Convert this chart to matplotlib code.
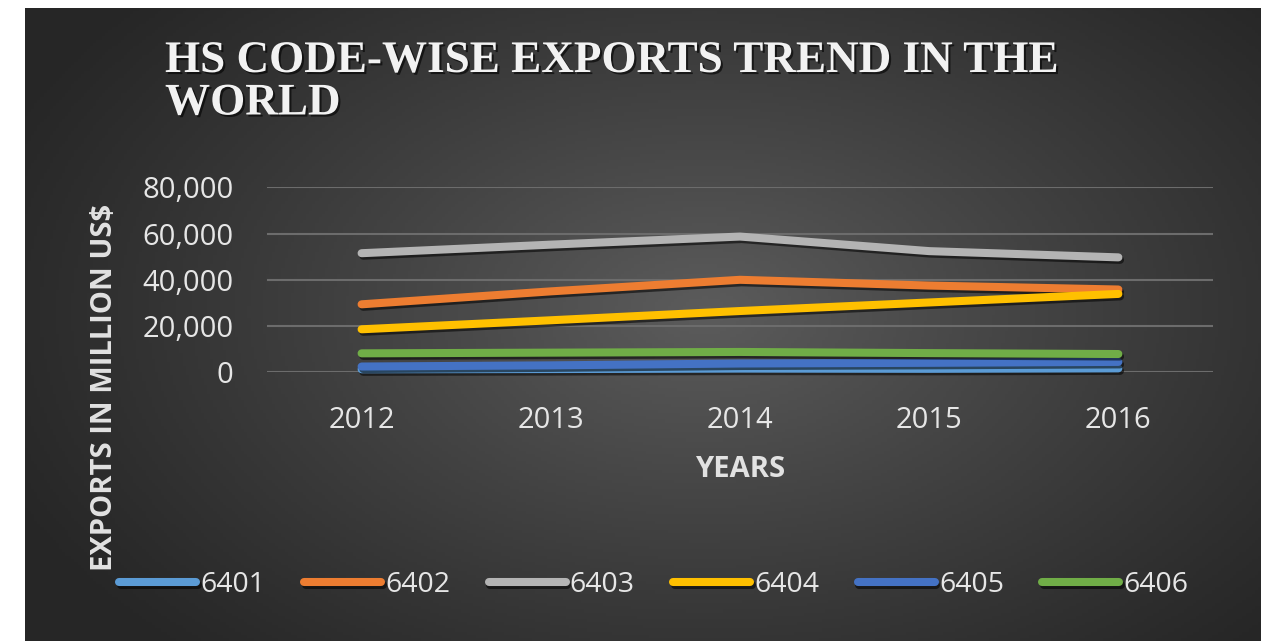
import numpy as np
import matplotlib
matplotlib.use("Agg")
import matplotlib.pyplot as plt
import matplotlib.patheffects as pe
from matplotlib.ticker import FuncFormatter

# exports by HS code, million US$
years = ["2012", "2013", "2014", "2015", "2016"]
codes = ["6401", "6402", "6403", "6404", "6405", "6406"]
exp_6401 = [1300, 1400, 1600, 1500, 1700]
exp_6402 = [29400, 35000, 40000, 37500, 35800]
exp_6403 = [51500, 55200, 58700, 52400, 49700]
exp_6404 = [18600, 22500, 26500, 30200, 33900]
exp_6405 = [2500, 3000, 3800, 4100, 4500]
exp_6406 = [8200, 8500, 8800, 8300, 7900]
colors = ["#5B9BD5", "#ED7D31", "#B4B4B4", "#FFC000", "#4472C4", "#70AD47"]

W, H, DPI = 1261, 641, 100
fig = plt.figure(figsize=(W / DPI, H / DPI), dpi=DPI, facecolor="white")

# dark panel with a soft radial glow
bg = fig.add_axes([25 / W, 0, 1 - 25 / W, 1 - 8 / H])
bg.set_axis_off()
gx, gy = np.meshgrid(np.linspace(0, 1, 400), np.linspace(0, 1, 200))
d = np.sqrt(((gx - 0.55) / 0.62) ** 2 + ((gy - 0.52) / 0.75) ** 2)
g = 0.15 + 0.21 * np.clip(1 - d, 0, 1) ** 1.1
bg.imshow(np.dstack([g, g, g]), aspect="auto", extent=(0, 1, 0, 1), origin="lower")

ax = fig.add_axes([267 / W, 1 - 372.3 / H, 946 / W, 185 / H])
ax.set_facecolor("none")

series = [exp_6401, exp_6402, exp_6403, exp_6404, exp_6405, exp_6406]
x = np.arange(len(years))
shadow = [pe.SimpleLineShadow(offset=(1.2, -1.8), shadow_color="black", alpha=0.55),
          pe.Normal()]
for vals, code, col in zip(series, codes, colors):
    ax.plot(x, vals, color=col, lw=5.8, solid_capstyle="round",
            solid_joinstyle="round", label=code, clip_on=False,
            path_effects=shadow, zorder=3)

ax.set_xlim(-0.5, len(years) - 0.5)
ax.set_ylim(0, 80000)
ax.set_yticks([0, 20000, 40000, 60000, 80000])
ax.yaxis.set_major_formatter(FuncFormatter(lambda v, p: f"{v:,.0f}"))
ax.set_xticks(x)
ax.set_xticklabels(years)
ax.grid(axis="y", color="#6c6c6c", lw=1.5)
ax.set_axisbelow(True)
for s in ax.spines.values():
    s.set_visible(False)
ax.tick_params(length=0, pad=24, labelcolor="#e6e6e6", labelsize=21)
for lab in ax.get_xticklabels() + ax.get_yticklabels():
    lab.set_family("Open Sans")

ax.set_xlabel("YEARS", fontsize=21, fontweight="bold", color="#e2e2e2",
              family="Open Sans", labelpad=15)
fig.text(105 / W, 1 - 387 / H, "EXPORTS IN MILLION US$", rotation=90,
         ha="center", va="center", fontsize=21, fontweight="bold",
         color="#e2e2e2", family="Open Sans")

fig.text(165 / W, 1 - 41 / H, "HS CODE-WISE EXPORTS TREND IN THE\nWORLD",
         ha="left", va="top", fontsize=32.5, fontweight="bold",
         family="Liberation Serif", color="#f2f2f2", linespacing=1.08,
         path_effects=[pe.withSimplePatchShadow(offset=(1.5, -1.5),
                                                shadow_rgbFace="black",
                                                alpha=0.6)])

leg = fig.legend(loc="center", bbox_to_anchor=(654 / W, 1 - 585 / H), ncol=6,
                 frameon=False, handlelength=2.7, handletextpad=0.15,
                 columnspacing=1.35, prop={"family": "Open Sans", "size": 20.5})
for t in leg.get_texts():
    t.set_color("#e6e6e6")

fig.savefig("out.png", dpi=DPI, facecolor="white")
